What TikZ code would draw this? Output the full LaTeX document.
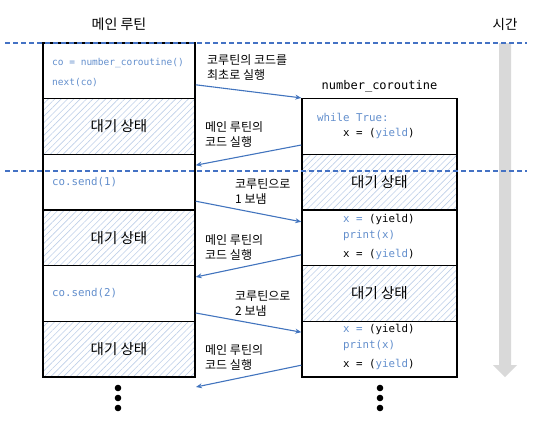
\documentclass[tikz,border=0pt]{standalone}
\usepackage{fontspec}
\setmainfont{Noto Sans CJK KR}
\setmonofont{DejaVu Sans Mono}
\usetikzlibrary{patterns.meta,arrows.meta}
\definecolor{codebleu}{RGB}{98,142,204}
\definecolor{flechebleu}{RGB}{66,116,190}
\definecolor{pointbleu}{RGB}{68,114,196}
\definecolor{hachure}{RGB}{190,207,232}
\definecolor{temps}{RGB}{217,217,217}
\newcommand{\bleu}[1]{\textcolor{codebleu}{#1}}
\begin{document}
\begin{tikzpicture}[x=1pt,y=-1pt,
    bloc/.style={draw,line width=1.5pt,minimum height=55.7pt,inner sep=0pt,font=\fontsize{14.5}{16}\selectfont},
    principal/.style={bloc,minimum width=152pt},
    corout/.style={bloc,minimum width=155pt},
    attente/.style={pattern={Lines[angle=45,distance=4.5pt,line width=0.6pt]},pattern color=hachure},
    code/.style={anchor=west,inner sep=0pt,font=\ttfamily\fontsize{10.8}{12}\selectfont},
    legende/.style={anchor=west,align=left,inner sep=0pt,font=\fontsize{12}{15}\selectfont},
    fleche/.style={draw=flechebleu,line width=1.1pt,-{Stealth[length=6pt,width=5pt]}}]
    \useasboundingbox (0,0) rectangle (542,421);

    % Temps
    \node[font=\fontsize{13.5}{15}\selectfont] (titretemps) at (505,24) {시간};
    \fill[temps] (499,43) -- (511,43) -- (511,365) -- (517,365) -- (505,377)
        -- (493,365) -- (499,365) -- cycle;

    % Routine principale
    \node[font=\fontsize{14}{15}\selectfont] (titremain) at (119,24) {메인 루틴};
    \node[principal] (m1) at (119,70.8) {};
    \node[principal,attente] (m2) at (119,126.5) {대기 상태};
    \node[principal] (m3) at (119,182.2) {};
    \node[principal,attente] (m4) at (119,237.8) {대기 상태};
    \node[principal] (m5) at (119,293.5) {};
    \node[principal,attente] (m6) at (119,349.2) {대기 상태};

    \node[code,font=\ttfamily\fontsize{9.5}{11}\selectfont] (c11) at (52,63) {\bleu{co = number\_coroutine()}};
    \node[code,font=\ttfamily\fontsize{9.5}{11}\selectfont] (c12) at (52,83) {\bleu{next(co)}};
    \node[code] (c31) at (52,182) {\bleu{co.send(1)}};
    \node[code] (c51) at (52,293) {\bleu{co.send(2)}};

    % Coroutine
    \node[font=\ttfamily\fontsize{12}{14}\selectfont] (titrecor) at (379.5,86) {number\_coroutine};
    \node[corout] (k1) at (379.5,126.5) {};
    \node[corout,attente] (k2) at (379.5,182.2) {대기 상태};
    \node[corout] (k3) at (379.5,237.8) {};
    \node[corout,attente] (k4) at (379.5,293.5) {대기 상태};
    \node[corout] (k5) at (379.5,349.2) {};

    \node[code] (k11) at (317,117) {\bleu{while True:}};
    \node[code] (k12) at (343,133) {x = (\bleu{yield})};
    \node[code] (k31) at (343,219) {\bleu{x =} (yield)};
    \node[code] (k32) at (343,236) {\bleu{print(x)}};
    \node[code] (k33) at (343,254) {x = (\bleu{yield})};
    \node[code] (k51) at (343,329) {\bleu{x =} (yield)};
    \node[code] (k52) at (343,346) {\bleu{print(x)}};
    \node[code] (k53) at (343,364) {x = (\bleu{yield})};

    % Points de suite
    \fill (118,388) circle (3.3) (118,398) circle (3.3) (118,408) circle (3.3);
    \fill (380,388) circle (3.3) (380,398) circle (3.3) (380,408) circle (3.3);

    % Flèches
    \coordinate (fin) at (196,387);
    \draw[fleche] ([yshift=-14pt]m1.east) -- (k1.north west);
    \draw[fleche] ([yshift=-18.5pt]k1.west) -- ([yshift=17pt]m3.east);
    \draw[fleche] ([yshift=-19pt]m3.east) -- ([yshift=16pt]k3.west);
    \draw[fleche] ([yshift=-17pt]k3.west) -- ([yshift=16.5pt]m5.east);
    \draw[fleche] ([yshift=-19.5pt]m5.east) -- ([yshift=17pt]k5.west);
    \draw[fleche] ([yshift=-16pt]k5.west) -- (fin);

    \node[legende] (l1) at (207,67.5) {코루틴의 코드를\\최초로 실행};
    \node[legende] (l2) at (205,134.5) {메인 루틴의\\코드 실행};
    \node[legende] (l3) at (235,191.5) {코루틴으로\\1 보냄};
    \node[legende] (l4) at (205,247.5) {메인 루틴의\\코드 실행};
    \node[legende] (l5) at (235,303.5) {코루틴으로\\2 보냄};
    \node[legende] (l6) at (205,357) {메인 루틴의\\코드 실행};

    % Pointillés
    \draw[pointbleu,line width=1.2pt,dash pattern=on 5pt off 3pt] (5,43) -- (527,43);
    \draw[pointbleu,line width=1.2pt,dash pattern=on 5pt off 3pt] (5,171) -- (527,171);
\end{tikzpicture}
\end{document}
